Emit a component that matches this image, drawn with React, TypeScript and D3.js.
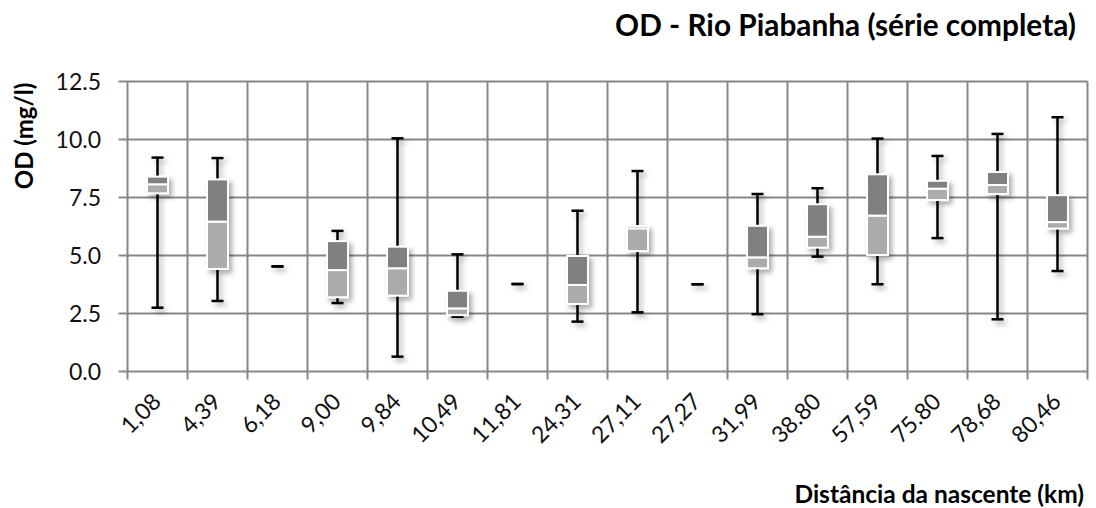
import React from "react";
import * as d3 from "d3";

const categories = ["1,08","4,39","6,18","9,00","9,84","10,49","11,81","24,31","27,11","27,27","31,99","38.80","57,59","75.80","78,68","80,46"];
const minValues = [2.75,3.04,4.53,2.95,0.64,2.36,3.77,2.15,2.55,3.76,2.47,4.95,3.76,5.75,2.25,4.33];
const q1Values = [7.68,4.42,4.53,3.20,3.27,2.43,3.77,2.91,5.19,3.76,4.45,5.34,5.02,7.39,7.65,6.16];
const medianValues = [8.07,6.46,4.53,4.37,4.45,2.72,3.77,3.73,6.17,3.76,4.92,5.81,6.72,7.88,8.04,6.44];
const q3Values = [8.40,8.28,4.53,5.62,5.38,3.48,3.77,4.98,6.27,3.76,6.28,7.21,8.50,8.22,8.60,7.60];
const maxValues = [9.22,9.20,4.53,6.06,10.05,5.05,3.77,6.93,8.64,3.76,7.65,7.90,10.04,9.29,10.24,10.96];
const yTicks = [0, 2.5, 5, 7.5, 10, 12.5];

const W = 1096, H = 508;
const left = 127.5, right = 1087.5, top = 81.5, bottom = 371.5;
const FONT = "Lato, 'Open Sans', sans-serif";

export default function App() {
  const x = d3.scaleBand<string>().domain(categories).range([left, right]).paddingInner(0).paddingOuter(0);
  const y = d3.scaleLinear().domain([0, 12.5]).range([bottom, top]);
  const bw = x.bandwidth();
  const boxW = 21;
  const capW = 12;
  const grid = "#878787";
  const boundaries = categories.map((c) => x(c) as number).concat([right]);

  return (
    <svg width={W} height={H} style={{ position: "absolute", left: 0, top: 0, background: "#fff" }} fontFamily={FONT}>
      <defs>
        <filter id="sh" filterUnits="userSpaceOnUse" x={0} y={0} width={W} height={H}>
          <feDropShadow dx="3" dy="3.5" stdDeviation="2.4" floodColor="#000" floodOpacity="0.33" />
        </filter>
      </defs>
      {yTicks.map((t) => (
        <line key={"h" + t} x1={left - 9} x2={right} y1={y(t)} y2={y(t)} stroke={grid} strokeWidth={2} />
      ))}
      {boundaries.map((b, i) => (
        <line key={"v" + i} x1={b} x2={b} y1={top} y2={bottom + 8} stroke={grid} strokeWidth={2} />
      ))}
      {yTicks.map((t) => (
        <text key={"yl" + t} x={101} y={y(t) + 8} textAnchor="end" fontSize={23} fill="#111">
          {d3.format(".1f")(t)}
        </text>
      ))}
      {categories.map((c, i) => {
        const cx = (x(c) as number) + bw / 2;
        const hasBox = q3Values[i] - q1Values[i] > 0.01;
        return (
          <g key={"b" + c} filter="url(#sh)">
            {maxValues[i] - minValues[i] > 0.01 && (
              <line x1={cx} x2={cx} y1={y(minValues[i])} y2={y(maxValues[i])} stroke="#000" strokeWidth={2.5} />
            )}
            <line x1={cx - capW / 2} x2={cx + capW / 2} y1={y(maxValues[i])} y2={y(maxValues[i])} stroke="#000" strokeWidth={2.5} />
            <line x1={cx - capW / 2} x2={cx + capW / 2} y1={y(minValues[i])} y2={y(minValues[i])} stroke="#000" strokeWidth={2.5} />
            {hasBox && (
              <g>
                <rect x={cx - boxW / 2} y={y(medianValues[i])} width={boxW} height={y(q1Values[i]) - y(medianValues[i])} fill="#ababab" stroke="#fff" strokeWidth={2} />
                <rect x={cx - boxW / 2} y={y(q3Values[i])} width={boxW} height={y(medianValues[i]) - y(q3Values[i])} fill="#808080" stroke="#fff" strokeWidth={2} />
              </g>
            )}
          </g>
        );
      })}
      {categories.map((c) => {
        const cx = (x(c) as number) + bw / 2;
        return (
          <text key={"xl" + c} transform={`translate(${cx + 5},${403}) rotate(-45)`} textAnchor="end" fontSize={23} fill="#111">
            {c}
          </text>
        );
      })}
      <text x={1076} y={36} textAnchor="end" fontSize={29.8} fontWeight="bold" fill="#000">
        OD - Rio Piabanha (série completa)
      </text>
      <text transform="translate(33,136) rotate(-90)" textAnchor="middle" fontSize={24} fontWeight="bold" fill="#000">
        OD (mg/l)
      </text>
      <text x={1084} y={503} textAnchor="end" fontSize={24.5} fontWeight="bold" fill="#000">
        Distância da nascente (km)
      </text>
    </svg>
  );
}
